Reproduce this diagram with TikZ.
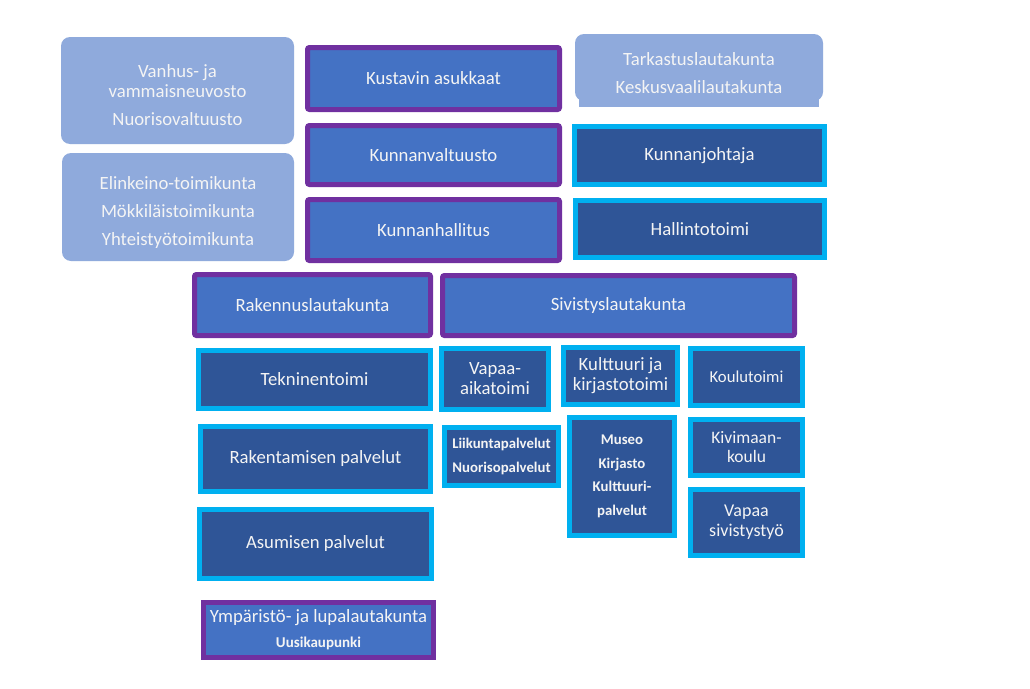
\documentclass[tikz,border=0pt]{standalone}
\usepackage{fontspec}
\setmainfont{Carlito}
\definecolor{softblue}{HTML}{8FAADC}
\definecolor{midblue}{HTML}{4472C4}
\definecolor{darkblue}{HTML}{2F5597}
\definecolor{violetline}{HTML}{7030A0}
\definecolor{cyanline}{HTML}{00B0F0}
\definecolor{txt}{HTML}{F4F4F4}
\tikzset{
  box/.style={inner sep=0pt, align=center, text=txt, font=\fontsize{18.7}{20}\selectfont},
  soft/.style={fill=softblue, rounded corners=9pt},
  board/.style={box, fill=midblue, draw=violetline, line width=5pt, rounded corners=2pt},
  office/.style={box, fill=darkblue, draw=cyanline, line width=4.5pt},
  small/.style={font=\fontsize{14.8}{23.5}\selectfont\bfseries}
}
\begin{document}
\begin{tikzpicture}[x=1pt, y=-1pt]
\useasboundingbox (0,0) rectangle (1030,688);
\fill[white] (0,0) rectangle (1030,688);

% light boxes
\fill[soft] (61,37) rectangle (294,144);
\node[box] (van) at (177.5,95) {Vanhus- ja\\vammaisneuvosto\\[8pt]Nuorisovaltuusto};
\fill[soft] (62,153) rectangle (294,261);
\node[box, font=\fontsize{18.7}{28}\selectfont] (eli) at (178,213)
  {Elinkeino-toimikunta\\Mökkiläistoimikunta\\Yhteistyötoimikunta};
\fill[softblue] (579,92) rectangle (819,107);
\fill[soft] (575,34) rectangle (823,101);
\node[box, font=\fontsize{18.7}{28}\selectfont] (tark) at (699,73.5)
  {Tarkastuslautakunta\\Keskusvaalilautakunta};

% boards
\node[board, minimum width=252pt, minimum height=62pt] (kust) at (433.5,78.5) {Kustavin asukkaat};
\node[board, minimum width=252pt, minimum height=59pt] (kval) at (433.5,155) {Kunnanvaltuusto};
\node[board, minimum width=252pt, minimum height=61pt] (khal) at (433.5,230) {Kunnanhallitus};
\node[board, minimum width=236pt, minimum height=61pt] (rak) at (312.5,305) {Rakennuslautakunta};
\node[board, minimum width=352pt, minimum height=60pt] (siv) at (618.5,305.5) {Sivistyslautakunta};
\node[board, rounded corners=0pt, minimum width=230pt, minimum height=55pt, font=\fontsize{18.7}{25}\selectfont] (ymp) at (318.5,629.5)
  {Ympäristö- ja lupalautakunta\\{\fontsize{15}{16}\selectfont\bfseries Uusikaupunki}};

% offices
\node[office, minimum width=250pt, minimum height=58pt] (kjoht) at (699.5,155.5) {Kunnanjohtaja};
\node[office, minimum width=249pt, minimum height=57pt] (hall) at (700,229) {Hallintotoimi};
\node[office, minimum width=232pt, minimum height=58pt] (tek) at (314.5,379.5) {Tekninentoimi};
\node[office, minimum width=107pt, minimum height=61pt] (vap) at (495,379) {Vapaa-\\aikatoimi};
\node[office, minimum width=114pt, minimum height=57pt] (kult) at (620.5,376) {Kulttuuri ja\\kirjastotoimi};
\node[office, minimum width=112pt, minimum height=57pt, font=\fontsize{16.7}{20}\selectfont] (koul) at (746.5,377) {Koulutoimi};
\node[office, minimum width=230pt, minimum height=65pt] (rakp) at (315.5,459) {Rakentamisen palvelut};
\node[office, small, minimum width=114pt, minimum height=58pt] (liik) at (501.5,456.5) {Liikuntapalvelut\\Nuorisopalvelut};
\node[office, small, minimum width=105pt, minimum height=118pt] (mus) at (622,476.5) {Museo\\Kirjasto\\Kulttuuri-\\palvelut};
\node[office, minimum width=112pt, minimum height=56pt, font=\fontsize{17.5}{19}\selectfont] (kivi) at (746.5,447.5) {Kivimaan-\\koulu};
\node[office, minimum width=112pt, minimum height=66pt, font=\fontsize{18}{20}\selectfont] (vss) at (746.5,522.5) {Vapaa\\sivistystyö};
\node[office, minimum width=232pt, minimum height=69pt] (asu) at (315.5,544) {Asumisen palvelut};
\end{tikzpicture}
\end{document}
